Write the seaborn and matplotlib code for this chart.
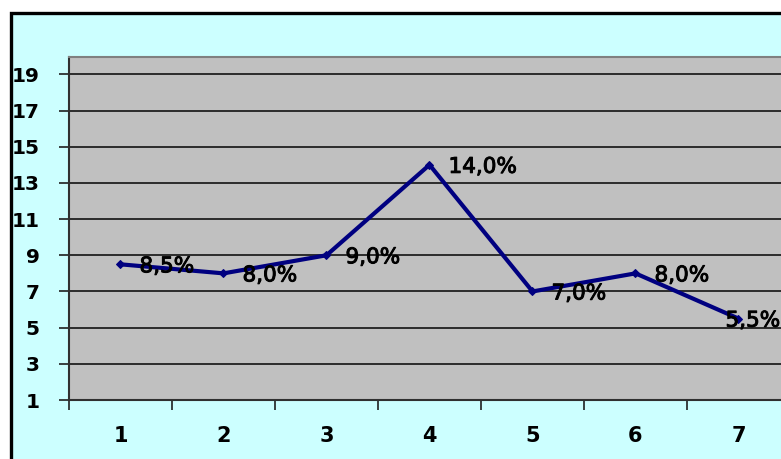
import matplotlib
matplotlib.use("Agg")
import matplotlib.pyplot as plt
import matplotlib.patheffects as pe
from matplotlib.patches import Rectangle
import seaborn as sns
import pandas as pd

# Series data
periods = [1, 2, 3, 4, 5, 6, 7]
rates = [8.5, 8.0, 9.0, 14.0, 7.0, 8.0, 5.5]
rate_labels = ["8,5%", "8,0%", "9,0%", "14,0%", "7,0%", "8,0%", "5,5%"]
y_ticks = [1, 3, 5, 7, 9, 11, 13, 15, 17, 19]

df = pd.DataFrame({"period": periods, "rate": rates})

sns.set_theme(style="white")
plt.rcParams["font.family"] = ["DejaVu Sans"]

W, H = 781, 459
fig = plt.figure(figsize=(W / 100, H / 100), dpi=100, facecolor="white")

# Framed chart area with cyan fill
fig.add_artist(Rectangle((11 / W, -0.2), 1.2, 0.2 + (H - 13.5) / H,
                         transform=fig.transFigure, facecolor="#CCFFFF",
                         edgecolor="black", linewidth=2.4, zorder=0))

ax = fig.add_axes([69 / W, 59 / H, 721 / W, 343 / H])
ax.set_facecolor("#C0C0C0")

sns.lineplot(data=df, x="period", y="rate", ax=ax, color="#000080",
             linewidth=3.0, marker="D", markersize=4,
             markeredgecolor="#000080", zorder=3)

ax.set_xlim(0.5, 7.5)
ax.set_ylim(1, 19.96)

ax.set_yticks(y_ticks)
ax.set_yticklabels([str(v) for v in y_ticks], fontsize=14.5, fontweight="bold",
                   color="black")
ax.yaxis.grid(True, color="#202020", linewidth=1.3)
ax.tick_params(axis="y", direction="out", length=7, width=1.2,
               color="#202020", pad=14, left=True)

# Category ticks sit between categories, labels at the category centres
ax.set_xticks([p + 0.5 for p in [0] + periods])
ax.set_xticklabels([])
ax.set_xticks(periods, minor=True)
ax.set_xticklabels([str(p) for p in periods], minor=True, fontsize=15,
                   fontweight="bold", color="black")
ax.tick_params(axis="x", which="major", direction="out", length=7, width=1.2,
               color="#202020", bottom=True)
ax.tick_params(axis="x", which="minor", length=0, pad=19)

ax.set_xlabel("")
ax.set_ylabel("")

for side in ["left", "bottom"]:
    ax.spines[side].set_color("#303030")
    ax.spines[side].set_linewidth(1.5)
ax.spines["top"].set_color("#808080")
ax.spines["top"].set_linewidth(1.5)
ax.spines["right"].set_visible(False)

# Data labels to the right of each point
label_stroke = [pe.withStroke(linewidth=0.7, foreground="black")]
for i, (p, r, lab) in enumerate(zip(periods, rates, rate_labels)):
    dx = 19 if i < len(periods) - 1 else -13
    ax.annotate(lab, (p, r), xytext=(dx, -2), textcoords="offset pixels",
                ha="left", va="center", fontsize=15.5, color="black",
                fontweight="normal", zorder=4, annotation_clip=False,
                path_effects=label_stroke)

fig.savefig("out.png", dpi=100, facecolor="white")
